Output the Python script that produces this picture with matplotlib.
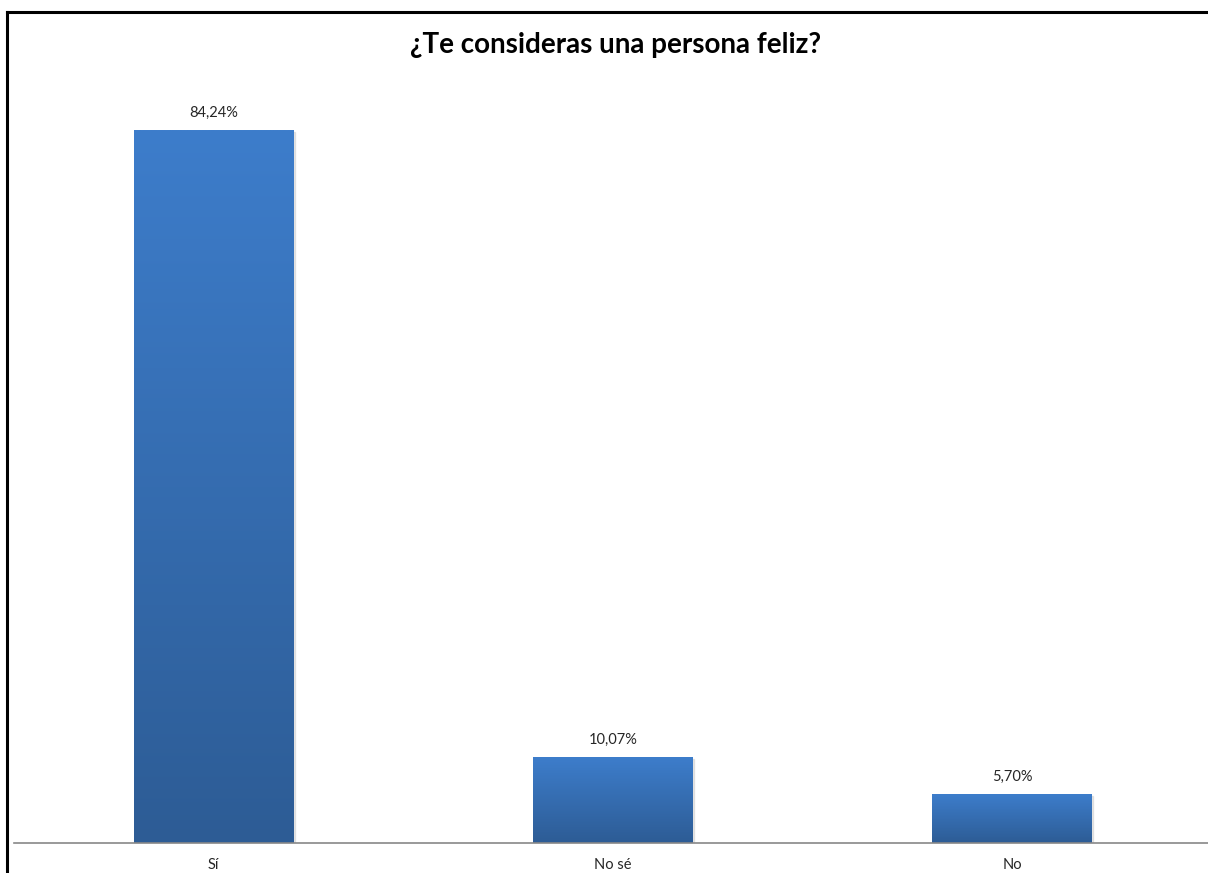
import matplotlib.pyplot as plt
import numpy as np
from matplotlib.colors import LinearSegmentedColormap
from matplotlib.lines import Line2D

categories = ["Sí", "No sé", "No"]
values = [84.24, 10.07, 5.70]
labels = ["84,24%", "10,07%", "5,70%"]

W, H = 1208, 873
fig = plt.figure(figsize=(W / 100, H / 100), dpi=100)
plt.rcParams['font.family'] = ['Lato', 'DejaVu Sans']

# axes: baseline at y=843px, slot centers 215/614/1013px
ax = fig.add_axes([14 / W, 30 / H, (W - 14) / W, (843 - 82) / H])
ax.set_xlim(-0.5, 2.5 - 4 / 399)
ax.set_ylim(0, 90)

grad = LinearSegmentedColormap.from_list("bar", ["#2d5c95", "#3d7dcb"])
bw = 0.4
bars = ax.bar(range(len(values)), values, width=bw, color="none", zorder=2)
g = np.linspace(0, 1, 256).reshape(-1, 1)
for b in bars:
    x0, h = b.get_x(), b.get_height()
    # soft shadow
    ax.add_patch(plt.Rectangle((x0 + 0.003, 0), bw, h - 0.15, color="#cccccc", alpha=0.5, zorder=1))
    ax.imshow(g, extent=[x0, x0 + bw, 0, h], origin="lower", aspect="auto",
              cmap=grad, zorder=2)

for i, (v, t) in enumerate(zip(values, labels)):
    ax.text(i, v + 1.3, t, ha="center", va="bottom", fontsize=10.5, color="#262626")

ax.set_xticks(range(len(categories)))
ax.set_xticklabels(categories, fontsize=10.5, color="#262626")
ax.tick_params(axis="x", length=0, pad=11)
ax.set_yticks([])
for s in ["top", "right", "left"]:
    ax.spines[s].set_visible(False)
ax.spines["bottom"].set_color("#888888")
ax.spines["bottom"].set_linewidth(1.2)
ax.set_xlim(-0.5, 2.5 - 4 / 399)

fig.text(616 / W, 1 - 45 / H, "¿Te consideras una persona feliz?", ha="center", va="center",
         fontsize=20, fontweight="bold", color="black")

# outer frame (cut off at right and bottom)
fig.add_artist(Line2D([7 / W, 1.01], [1 - 12 / H, 1 - 12 / H], color="black", lw=2.2))
fig.add_artist(Line2D([7 / W, 7 / W], [-0.01, 1 - 12 / H], color="black", lw=2.2))

fig.savefig("out.png", dpi=100)
